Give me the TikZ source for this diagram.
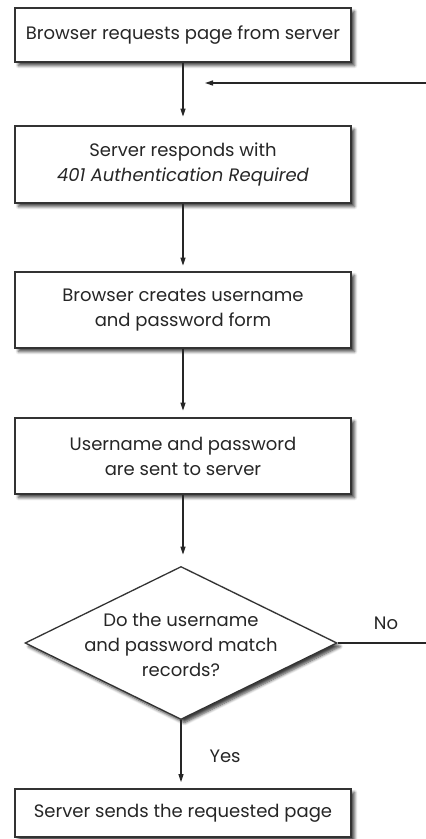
\documentclass[tikz,border=0pt]{standalone}
\usepackage{fontspec}
\setmainfont{Poppins}
\usetikzlibrary{arrows.meta,shapes.geometric,shadows.blur}
\begin{document}
\begin{tikzpicture}[x=1pt,y=-1pt,
  every node/.style={font=\fontsize{18}{25}\selectfont, text=black!85},
  boxshadow/.style={blur shadow={shadow xshift=3.5pt,shadow yshift=-3.5pt,shadow blur steps=6,shadow blur radius=3pt,shadow opacity=75}},
  stepbox/.style={draw=black!80, line width=1.3pt, fill=white, minimum width=336pt, align=center, inner sep=0pt, boxshadow},
  flow/.style={draw=black!85, line width=1.3pt, -{Triangle[length=8pt,width=5pt]}},
  plain/.style={draw=black!85, line width=1.3pt}]
\useasboundingbox (0,0) rectangle (426,839);
\node[stepbox, minimum height=54pt] (b1) at (183,35) {Browser requests page from server};
\node[stepbox, minimum height=77pt] (b2) at (183,164.5) {Server responds with\\\textit{401 Authentication Required}};
\node[stepbox, minimum height=76pt] (b3) at (183,310) {Browser creates username\\and password form};
\node[stepbox, minimum height=76pt] (b4) at (183,456) {Username and password\\are sent to server};
\node[diamond, draw=black!80, line width=1.3pt, fill=white, minimum width=312pt, minimum height=153pt, inner sep=0pt, boxshadow] (d) at (181,643) {};
\node[align=center] (dt) at (181,645) {Do the username\\and password match\\records?};
\node[stepbox, minimum height=48pt] (b5) at (183,813) {Server sends the requested page};
\coordinate (retin) at (426,83);
\coordinate (retend) at (205,83);
\coordinate (noend) at (426,643);
\draw[flow] (b1.south) -- ++(0,54);
\draw[flow] (retin) -- (retend);
\draw[flow] (b2.south) -- ++(0,62);
\draw[flow] (b3.south) -- ++(0,62);
\draw[flow] (b4.south) -- ++(0,60);
\draw[flow] (d.south) -- ++(0,62);
\draw[plain] (d.east) -- (noend);
\node[anchor=base] (no) at (386,629) {No};
\node[anchor=base west] (yes) at (206,762) {Yes};
\end{tikzpicture}
\end{document}
